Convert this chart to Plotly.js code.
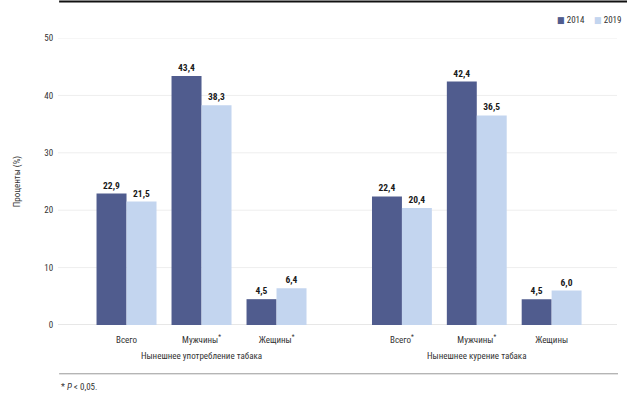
<!DOCTYPE html>
<html>
<head>
<meta charset="utf-8">
<script src="https://cdn.plot.ly/plotly-3.0.1.min.js"></script>
<style>html,body{margin:0;padding:0;background:#fff;}#chart{width:627px;height:395px;}</style>
</head>
<body>
<div id="chart"></div>
<script>
const categoriesUse = ["Всего", "Мужчины<sup>*</sup>", "Жещины<sup>*</sup>"];
const categoriesSmoke = ["Всего<sup>*</sup>", "Мужчины<sup>*</sup>", "Жещины"];
const groupTitles = ["Нынешнее употребление табака", "Нынешнее курение табака"];
const seriesNames = ["2014", "2019"];
const use2014 = [22.9, 43.4, 4.5];
const use2019 = [21.5, 38.3, 6.4];
const smoke2014 = [22.4, 42.4, 4.5];
const smoke2019 = [20.4, 36.5, 6.0];
const yTicks = [0, 10, 20, 30, 40, 50];

const COLORS = ["#505c8e", "#c3d5ef"];
const FONT = "'Roboto Condensed', 'Noto Sans Condensed', 'Open Sans Condensed', 'DejaVu Sans Condensed', 'Liberation Sans Narrow', 'Roboto', sans-serif";
const fmt = v => v.toFixed(1).replace(".", ",");

function bar(x, y, idx, xa) {
  return {
    type: "bar", x: x, y: y, name: seriesNames[idx], xaxis: xa, yaxis: "y",
    marker: {color: COLORS[idx]},
    text: y.map(v => "<b>" + fmt(v) + "</b>"), textposition: "outside", cliponaxis: false,
    textfont: {family: FONT, size: 9.5, color: "#1a1a1a"},
    showlegend: false, hoverinfo: "skip"
  };
}

const data = [
  bar(categoriesUse, use2014, 0, "x"),
  bar(categoriesUse, use2019, 1, "x"),
  bar(categoriesSmoke, smoke2014, 0, "x2"),
  bar(categoriesSmoke, smoke2019, 1, "x2")
];

const tickFont = {family: FONT, size: 9, color: "#333"};
const titleFont = {family: FONT, size: 9, color: "#333"};

const xCommon = {anchor: "y", type: "category", showgrid: false, zeroline: false, showline: false,
                 ticks: "outside", ticklen: 6, tickcolor: "rgba(0,0,0,0)", tickfont: tickFont};

const gridShapes = yTicks.map(t => ({
  type: "line", xref: "paper", yref: "y", x0: 0, x1: 1, y0: t, y1: t, layer: "below",
  line: {color: t === 0 ? "#cfcfcf" : "#eeeeee", width: 1}
}));

const legendAnn = seriesNames.map((n, i) => ({
  xref: "paper", yref: "paper", x: [0.889, 0.955][i], y: 1.064, xanchor: "left", yanchor: "middle",
  showarrow: false, text: '<span style="color:' + COLORS[i] + '">■</span> ' + n,
  font: {family: FONT, size: 9, color: "#333"}
}));

const layout = {
  width: 627, height: 395,
  margin: {l: 58, r: 10, t: 38, b: 70, autoexpand: false},
  paper_bgcolor: "#fff", plot_bgcolor: "#fff",
  barmode: "group", bargap: 0.2, bargroupgap: 0,
  font: {family: FONT, size: 9, color: "#333"},
  showlegend: false,
  xaxis: Object.assign({}, xCommon, {domain: [0.0555, 0.458],
          title: {text: groupTitles[0], font: titleFont, standoff: 8}}),
  xaxis2: Object.assign({}, xCommon, {domain: [0.5483, 0.95],
          title: {text: groupTitles[1], font: titleFont, standoff: 8}}),
  yaxis: {anchor: "free", position: 0, range: [0, 50], tickvals: yTicks, showgrid: false,
          zeroline: false, showline: false, ticks: "outside", ticklen: 3, tickcolor: "rgba(0,0,0,0)",
          tickfont: tickFont,
          title: {text: "Проценты (%)", font: titleFont, standoff: 21}},
  shapes: gridShapes.concat([
    {type: "line", xref: "paper", yref: "paper", x0: 0.002, x1: 1.02, y0: 1.127, y1: 1.127,
     line: {color: "#111", width: 2}},
    {type: "line", xref: "paper", yref: "paper", x0: 0.002, x1: 1.0018, y0: -0.170, y1: -0.170,
     line: {color: "#999", width: 1}}
  ]),
  annotations: legendAnn.concat([
    {xref: "paper", yref: "paper", x: 0.002, y: -0.2157, xanchor: "left", yanchor: "middle", showarrow: false,
     text: "* <i>P</i> < 0,05.", font: {family: FONT, size: 9, color: "#333"}}
  ])
};

Plotly.newPlot("chart", data, layout, {displayModeBar: false, staticPlot: true});
</script>
</body>
</html>
